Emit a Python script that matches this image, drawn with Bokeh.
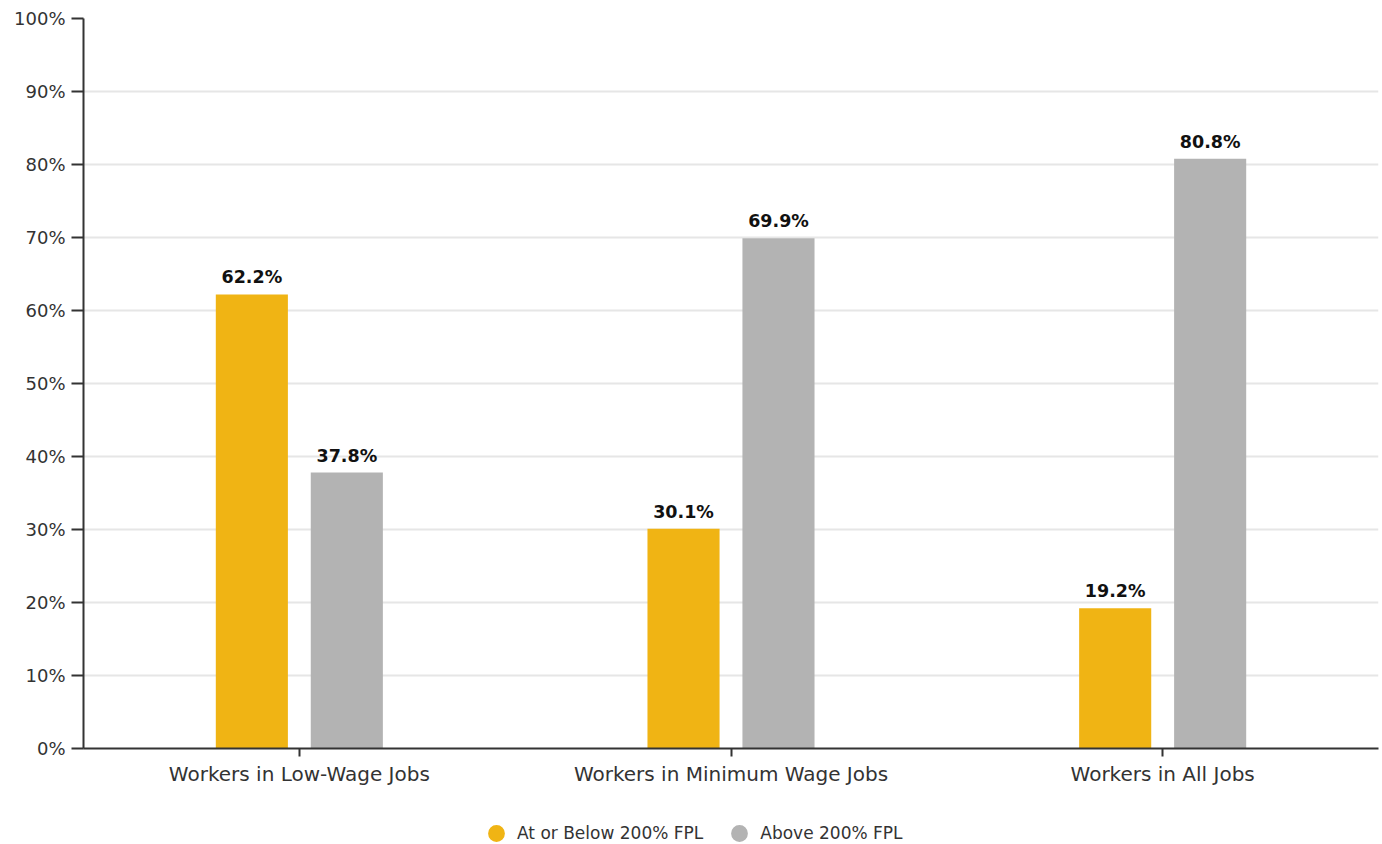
from bokeh.plotting import figure
from bokeh.layouts import column
from bokeh.models import (FactorRange, Range1d, ColumnDataSource, PrintfTickFormatter,
                          Legend, LegendItem, FixedTicker)
from bokeh.transform import dodge
from bokeh.core.properties import value
from bokeh.embed import file_html
from bokeh.resources import INLINE

categories = ["Workers in Low-Wage Jobs", "Workers in Minimum Wage Jobs", "Workers in All Jobs"]
below_200 = [62.2, 30.1, 19.2]
above_200 = [37.8, 69.9, 80.8]
series_names = ["At or Below 200% FPL", "Above 200% FPL"]
y_ticks = [0, 10, 20, 30, 40, 50, 60, 70, 80, 90, 100]

YELLOW = "#F0B414"
GRAY = "#B3B3B3"
FONT = "DejaVu Sans"

src = ColumnDataSource(dict(
    cat=categories,
    below=below_200,
    above=above_200,
    below_lbl=[f"{v:.1f}%" for v in below_200],
    above_lbl=[f"{v:.1f}%" for v in above_200],
))

p = figure(width=1382, height=790, x_range=FactorRange(factors=categories),
           y_range=Range1d(0, 100), output_backend="svg", toolbar_location=None,
           min_border_left=83, min_border_right=4, min_border_top=18, min_border_bottom=42)

p.vbar(x=dodge("cat", -0.11, range=p.x_range), top="below", width=0.167, source=src,
       fill_color=YELLOW, line_color=None)
p.vbar(x=dodge("cat", 0.11, range=p.x_range), top="above", width=0.167, source=src,
       fill_color=GRAY, line_color=None)

p.text(x=dodge("cat", -0.11, range=p.x_range), y="below", text="below_lbl", source=src,
       text_align="center", text_baseline="bottom", y_offset=-7,
       text_font=value(FONT), text_font_size="17.5px", text_font_style="bold", text_color="#111111")
p.text(x=dodge("cat", 0.11, range=p.x_range), y="above", text="above_lbl", source=src,
       text_align="center", text_baseline="bottom", y_offset=-7,
       text_font=value(FONT), text_font_size="17.5px", text_font_style="bold", text_color="#111111")

p.yaxis.ticker = FixedTicker(ticks=y_ticks)
p.yaxis.formatter = PrintfTickFormatter(format="%d%%")
for ax in (p.xaxis, p.yaxis):
    ax.axis_line_color = "#333333"
    ax.axis_line_width = 2
    ax.major_tick_line_color = "#333333"
    ax.major_tick_line_width = 2
    ax.major_tick_in = 0
    ax.minor_tick_line_color = None
    ax.major_label_text_font = FONT
    ax.major_label_text_color = "#333333"
p.yaxis.major_label_text_font_size = "18px"
p.xaxis.major_label_text_font_size = "20px"
p.yaxis.major_tick_out = 12
p.yaxis.major_label_standoff = 6
p.xaxis.major_tick_out = 8
p.xaxis.major_label_standoff = 5

p.xgrid.grid_line_color = None
p.ygrid.grid_line_color = "#E6E6E6"
p.ygrid.grid_line_width = 2
p.outline_line_color = None

# legend strip below the chart
lg = figure(width=1382, height=54, x_range=Range1d(0, 1), y_range=Range1d(0, 1),
            output_backend="svg", toolbar_location=None,
            x_axis_location=None, y_axis_location=None,
            min_border_left=0, min_border_right=0, min_border_top=0, min_border_bottom=0)
lg.grid.visible = False
lg.outline_line_color = None
nan = float("nan")
r1 = lg.scatter(x=[nan], y=[nan], marker="circle", size=17, fill_color=YELLOW, line_color=None)
r2 = lg.scatter(x=[nan], y=[nan], marker="circle", size=17, fill_color=GRAY, line_color=None)
legend = Legend(items=[LegendItem(label=series_names[0], renderers=[r1], index=0),
                       LegendItem(label=series_names[1], renderers=[r2], index=0)],
                orientation="horizontal", location=(392, -10),
                label_text_font=FONT, label_text_font_size="17px", label_text_color="#333333",
                border_line_color=None, background_fill_alpha=0,
                glyph_width=42, glyph_height=42, spacing=15, label_standoff=0,
                padding=0, margin=0)
lg.add_layout(legend, "center")

layout = column(p, lg, spacing=0)
open("out.html", "w").write(file_html(layout, INLINE))
